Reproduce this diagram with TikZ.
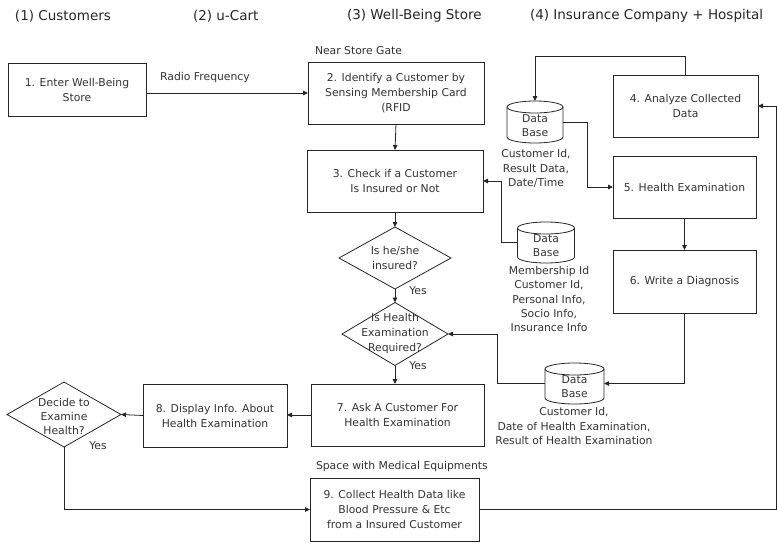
\documentclass[tikz,border=0pt]{standalone}
\usepackage{fontspec}
\setmainfont{DejaVu Sans}
\usetikzlibrary{arrows.meta,shapes.geometric}

% cylinder outline drawn around a named database node (#2 = half width)
\newcommand\dbshape[2]{%
  \draw[wire] ([yshift=-6pt]#1.north west) -- ([yshift=6pt]#1.south west)
    arc[start angle=180,end angle=360,x radius=#2,y radius=6pt]
    -- ([yshift=-6pt]#1.north east);
  \draw[wire] ([yshift=-6pt]#1.north) ellipse[x radius=#2,y radius=6pt];
}

\begin{document}
\begin{tikzpicture}[x=1pt,y=-1pt,
  every node/.style={inner sep=0pt,outer sep=0pt},
  wire/.style={draw=black!85,line width=0.8pt},
  arr/.style={wire,-{Triangle[length=5pt,width=4.5pt]}},
  txt/.style={font=\fontsize{10.8}{15}\selectfont,text=black!80,align=center},
  proc/.style={txt,draw=black!85,line width=0.8pt,rectangle},
  dec/.style={draw=black!85,line width=0.8pt,diamond},
  dbnode/.style={rectangle},
  dblabel/.style={txt,font=\fontsize{10.8}{14}\selectfont},
  note/.style={font=\fontsize{10.8}{14.2}\selectfont,text=black!80,align=center},
  head/.style={font=\fontsize{13.5}{16}\selectfont,text=black!85,anchor=west},
]
\useasboundingbox (0,0) rectangle (777,544);

% column headings
\node[head] (h1) at (15,16) {(1) Customers};
\node[head] (h2) at (193,16) {(2) u-Cart};
\node[head] (h3) at (347,16) {(3) Well-Being Store};
\node[head] (h4) at (530,16) {(4) Insurance Company + Hospital};

% process boxes
\node[proc,minimum width=138pt,minimum height=53pt] (b1) at (77,89.5) {1. Enter Well-Being\\Store};
\node[proc,minimum width=176pt,minimum height=62pt] (b2) at (396,93) {2. Identify a Customer by\\Sensing Membership Card\\(RFID};
\node[proc,minimum width=176pt,minimum height=62pt] (b3) at (395,181) {3. Check if a Customer\\Is Insured or Not};
\node[proc,minimum width=145pt,minimum height=62pt] (b4) at (685.5,106) {4. Analyze Collected\\Data};
\node[proc,minimum width=143pt,minimum height=62pt] (b5) at (684.5,187) {5. Health Examination};
\node[proc,minimum width=143pt,minimum height=63pt] (b6) at (684.5,281.5) {6. Write a Diagnosis};
\node[proc,minimum width=173pt,minimum height=62pt] (b7) at (397.5,415) {7. Ask A Customer For\\Health Examination};
\node[proc,minimum width=144pt,minimum height=63pt] (b8) at (215,415.5) {8. Display Info. About\\Health Examination};
\node[proc,minimum width=169pt,minimum height=63pt] (b9) at (394.5,509.5) {9. Collect Health Data like\\Blood Pressure \& Etc\\from a Insured Customer};

% decisions
\node[dec,minimum width=112pt,minimum height=62pt] (d1) at (395,258) {};
\node[txt] (d1t) at (395,258) {Is he/she\\insured?};
\node[dec,minimum width=106pt,minimum height=63pt] (d2) at (395,334) {};
\node[txt] (d2t) at (395,334) {Is Health\\Examination\\Required?};
\node[dec,minimum width=114pt,minimum height=65pt] (d3) at (64,414.5) {};
\node[txt,font=\fontsize{10.8}{14}\selectfont] (d3t) at (64,416) {Decide to\\Examine\\Health?};

% databases
\node[dbnode,minimum width=56pt,minimum height=42pt] (db1) at (535,122) {};
\dbshape{db1}{28pt}
\node[dblabel] (db1t) at ([yshift=-3.5pt]db1.center) {Data\\Base};
\node[dbnode,minimum width=57pt,minimum height=41pt] (db2) at (546,242.5) {};
\dbshape{db2}{28.5pt}
\node[dblabel] (db2t) at ([yshift=-3.5pt]db2.center) {Data\\Base};
\node[dbnode,minimum width=59pt,minimum height=41pt] (db3) at (574.5,383.5) {};
\dbshape{db3}{29.5pt}
\node[dblabel] (db3t) at ([yshift=-3.5pt]db3.center) {Data\\Base};

% annotations
\node[note] (n1) at (536,168.5) {Customer Id,\\Result Data,\\Date/Time};
\node[note] (n2) at (549,299) {Membership Id\\Customer Id,\\Personal Info,\\Socio Info,\\Insurance Info};
\node[note] (n3) at (574,426) {Customer Id,\\Date of Health Examination,\\Result of Health Examination};
\node[note,anchor=west] (gate) at (315,51) {Near Store Gate};
\node[note,anchor=west] (space) at (316,467) {Space with Medical Equipments};
\node[note] (rf) at (205,78) {Radio Frequency};
\node[note] (y1) at (418,291) {Yes};
\node[note] (y2) at (418,366) {Yes};
\node[note] (y3) at (98,446) {Yes};

% connectors
\draw[arr] (b1.east |- b2.west) -- (b2.west);
\draw[arr] (b2.south) -- (b3.north);
\draw[arr] (b3.south) -- (d1.north);
\draw[arr] (d1.south) -- (d2.north);
\draw[arr] (d2.south) -- (d2.south |- b7.north);
\draw[arr] (b7.west) -- (b7.west -| b8.east);
\draw[arr] (b8.west) -- (d3.east);
\draw[arr] (d3.south) |- (b9.west);
\coordinate (rail) at (776,0);
\draw[arr] (b9.east) -| (rail |- b4.east) -- (b4.east);
\draw[arr] (b4.north) -- ++(0,-19) -| (db1.north);
\draw[arr] (db1.east) -- ++(24,0) |- (b5.west);
\draw[arr] (b5.south) -- (b6.north);
\draw[arr] (b6.south) |- (db3.east);
\draw[arr] (db3.west) -- ++(-48,0) |- (d2.east);
\draw[arr] (db2.west) -- ++(-16.5,0) |- (b3.east);
\end{tikzpicture}
\end{document}
